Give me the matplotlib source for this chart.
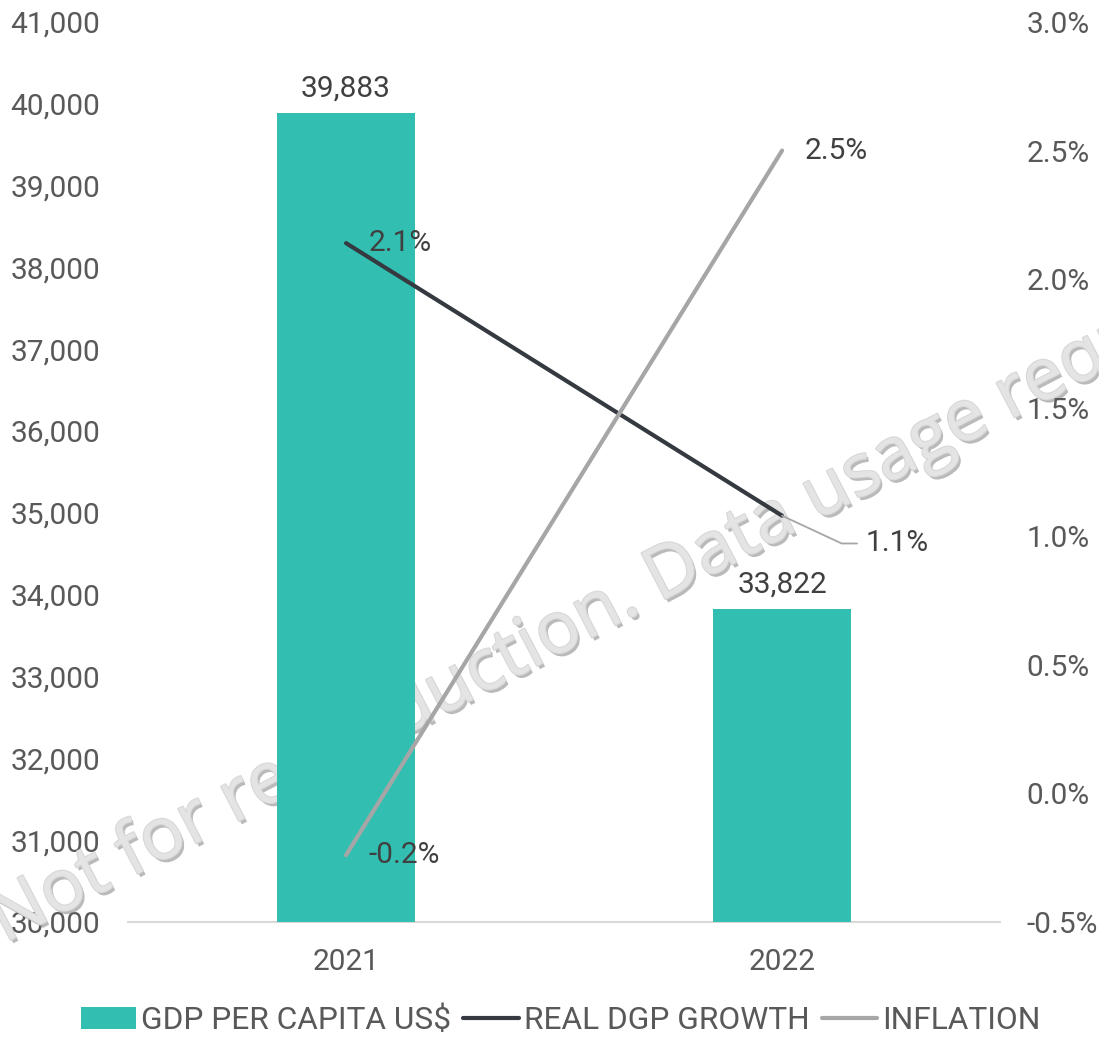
import matplotlib.pyplot as plt
import matplotlib.patheffects as pe
from matplotlib.ticker import FuncFormatter

plt.rcParams['font.family'] = ['Roboto', 'DejaVu Sans']

years = ["2021", "2022"]
gdpPerCapita = [39883, 33822]
realGrowth = [2.14, 1.08]
inflation = [-0.24, 2.50]

textColor = "#595959"
labelColor = "#404040"
barColor = "#32BFB1"
growthColor = "#343A40"
inflationColor = "#A6A6A6"
fs = 21.5

fig = plt.figure(figsize=(10.99, 10.37), dpi=100)
ax = fig.add_axes([0.1165, 0.1109, 0.7935, 0.8679])
ax2 = ax.twinx()

x = list(range(len(years)))
bars = ax.bar(x, gdpPerCapita, width=0.315, color=barColor, label="GDP PER CAPITA US$", zorder=3)
ax.set_xlim(-0.5, 1.5)
ax.set_ylim(30000, 41000)
ax.set_yticks(range(30000, 41001, 1000))
ax.yaxis.set_major_formatter(FuncFormatter(lambda v, p: f"{int(v):,}"))
ax.set_xticks(x)
ax.set_xticklabels(years)

for xi, v in zip(x, gdpPerCapita):
    ax.annotate(f"{v:,}", (xi, v), xytext=(0, 8), textcoords="offset points",
                ha="center", va="bottom", fontsize=fs, color=labelColor, zorder=4)

l1, = ax2.plot(x, realGrowth, color=growthColor, lw=3, solid_capstyle="round", label="REAL DGP GROWTH", zorder=3)
l2, = ax2.plot(x, inflation, color=inflationColor, lw=3, solid_capstyle="round", label="INFLATION", zorder=3)
ax2.set_ylim(-0.5, 3.0)
ax2.set_yticks([-0.5, 0, 0.5, 1.0, 1.5, 2.0, 2.5, 3.0])
ax2.yaxis.set_major_formatter(FuncFormatter(lambda v, p: f"{v:.1f}%"))

# data labels for the lines
ax2.annotate(f"{realGrowth[0]:.1f}%", (x[0], realGrowth[0]), xytext=(16, 0), textcoords="offset points",
             ha="left", va="center", fontsize=fs, color=labelColor)
ax2.annotate(f"{realGrowth[1]:.1f}%", (x[1], realGrowth[1]), xytext=(60, -20), textcoords="offset points",
             ha="left", va="center", fontsize=fs, color=labelColor,
             arrowprops=dict(arrowstyle="-", color="#A6A6A6", lw=1.3,
                             connectionstyle="angle,angleA=0,angleB=-25,rad=0", shrinkA=4, shrinkB=0))
ax2.annotate(f"{inflation[0]:.1f}%", (x[0], inflation[0]), xytext=(16, 0), textcoords="offset points",
             ha="left", va="center", fontsize=fs, color=labelColor)
ax2.annotate(f"{inflation[1]:.1f}%", (x[1], inflation[1]), xytext=(16, 0), textcoords="offset points",
             ha="left", va="center", fontsize=fs, color=labelColor)

for a in (ax, ax2):
    for s in a.spines.values():
        s.set_visible(False)
    a.tick_params(length=0, labelsize=fs, colors=textColor)
ax.spines["bottom"].set_visible(True)
ax.spines["bottom"].set_color("#D9D9D9")
ax.spines["bottom"].set_linewidth(1.5)
ax.tick_params(axis="y", pad=20)
ax.tick_params(axis="x", pad=19)
ax2.tick_params(axis="y", pad=19)
ax.set_zorder(1)
ax2.set_zorder(2)

fig.legend([bars, l1, l2], ["GDP PER CAPITA US$", "REAL DGP GROWTH", "INFLATION"],
           loc="center", bbox_to_anchor=(0.51, 0.016), ncol=3, frameon=False, fontsize=22.8,
           labelcolor=textColor, handlelength=1.75, handletextpad=0.15, columnspacing=0.4)

# watermark (over the tick labels, under bars and lines)
ax.text(0.004, 0.0906, "Not for reproduction. Data usage required", transform=fig.transFigure,
        rotation=27.5, rotation_mode="anchor", ha="left", va="baseline", fontsize=52,
        family="Open Sans", color="#E4E4E4", zorder=2.7, clip_on=False,
        path_effects=[pe.withSimplePatchShadow(offset=(2, -2.5), shadow_rgbFace="#8C8C8C", alpha=0.6),
                      pe.Stroke(linewidth=1.6, foreground="#D8D8D8"), pe.Normal()])

fig.savefig("out.png", dpi=100)
